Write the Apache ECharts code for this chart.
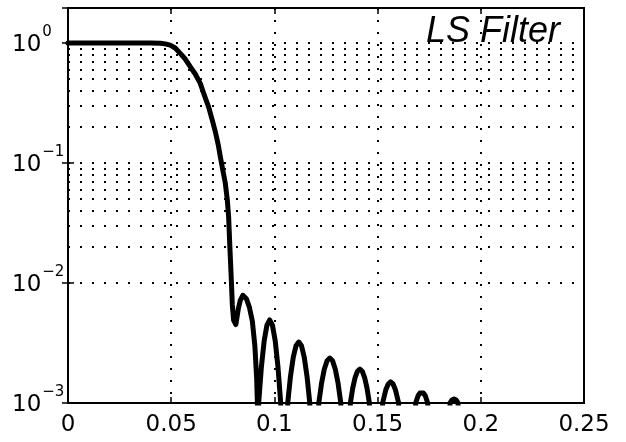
<!DOCTYPE html>
<html><head><meta charset="utf-8">
<script src="https://cdn.jsdelivr.net/npm/echarts@6/dist/echarts.min.js"></script>
<style>html,body{margin:0;padding:0;background:#fff}#c{width:626px;height:442px}</style>
</head><body><div id="c"></div>
<script>
// ---- tick data ----
const xTickLabels = ['0', '0.05', '0.1', '0.15', '0.2', '0.25'];
const yTickValues = [0.001, 0.01, 0.1, 1];
const yTickExps = ['\u22123', '\u22122', '\u22121', '0'];
const yMinorGrid = [0.002,0.003,0.004,0.005,0.006,0.007,0.008,0.009,
                    0.02,0.03,0.04,0.05,0.06,0.07,0.08,0.09,
                    0.2,0.3,0.4,0.5,0.6,0.7,0.8,0.9];

// ---- response data [frequency, magnitude] ----
const passband = [[0,1],[0.02,1],[0.04,1],[0.0447,0.998]];
const transition = [[0.04709,0.985],[0.04951,0.962],[0.05194,0.91],[0.05437,0.82],[0.0568,0.736],
  [0.05922,0.635],[0.06165,0.552],[0.06408,0.461],[0.06602,0.369],[0.06811,0.294],[0.0699,0.228],
  [0.07136,0.183],[0.07282,0.141],[0.07379,0.113],[0.075,0.0874],[0.07621,0.068],[0.07718,0.0492],
  [0.07782,0.0357],[0.0784,0.0205],[0.07913,0.0106],[0.07961,0.0066],[0.08024,0.0049],[0.08131,0.0045]];
const lobe1 = [[0.08252,0.0061],[0.0835,0.0072],[0.08471,0.0079],[0.08641,0.0074],[0.08786,0.0063],
  [0.08932,0.0048],[0.09053,0.0030],[0.09141,0.0016],[0.09175,0.001],[0.09214,1e-6]];
const lobe2 = [[0.09238,0.001],[0.09371,0.00201],[0.09505,0.0033],[0.09638,0.00445],[0.09772,0.00492],
  [0.09905,0.00445],[0.10039,0.0033],[0.10172,0.00201],[0.10306,0.001],[0.10476,1e-6]];
const lobe3 = [[0.10646,0.001],[0.10779,0.00167],[0.10913,0.0024],[0.11046,0.003],[0.1118,0.00322],
  [0.11313,0.003],[0.11447,0.0024],[0.1158,0.00167],[0.11714,0.001],[0.11932,1e-6]];
const lobe4 = [[0.1215,0.001],[0.12284,0.00146],[0.12417,0.00191],[0.12551,0.00225],[0.12684,0.00237],
  [0.12818,0.00225],[0.12951,0.00191],[0.13085,0.00146],[0.13218,0.001],[0.13447,1e-6]];
const lobe5 = [[0.1368,0.001],[0.13795,0.00133],[0.1391,0.00163],[0.14025,0.00184],[0.14141,0.00192],
  [0.14256,0.00184],[0.14371,0.00163],[0.14487,0.00133],[0.14602,0.001],[0.14922,1e-6]];
const lobe6 = [[0.15243,0.001],[0.15398,0.00129],[0.15515,0.00144],[0.15631,0.0015],[0.15748,0.00144],
  [0.15864,0.00129],[0.16019,0.001],[0.16432,1e-6]];
const lobe7 = [[0.16845,0.001],[0.16961,0.00115],[0.17049,0.00121],[0.17136,0.00124],[0.17223,0.00121],
  [0.17311,0.00115],[0.17427,0.001],[0.17961,1e-6]];
const lobe8 = [[0.1851,0.001],[0.18607,0.00106],[0.18704,0.00108],[0.18801,0.00106],[0.18898,0.001],[0.19126,1e-6]];

const curve = [].concat(passband, transition, lobe1, lobe2, lobe3, lobe4, lobe5, lobe6, lobe7, lobe8);

function dotted() { return {type: [2, 10], color: '#000', width: 2}; }
const tickFont = 'DejaVu Sans';

function yLabel(v) {
  for (let i = 0; i < yTickValues.length; i++) {
    if (Math.abs(Math.log10(v) - Math.log10(yTickValues[i])) < 1e-6) {
      return '{b|10}{s|' + yTickExps[i] + '}';
    }
  }
  return '';
}

const chart = echarts.init(document.getElementById('c'), null, {renderer: 'canvas'});
chart.setOption({
  animation: false,
  backgroundColor: '#fff',
  title: {
    text: 'LS Filter', right: 66, top: 14, padding: 0,
    textStyle: {fontFamily: 'Liberation Sans', fontStyle: 'italic', fontWeight: 'normal', fontSize: 36, color: '#000'}
  },
  grid: {left: 68, right: 42, top: 8, bottom: 39, containLabel: false, outerBoundsMode: 'none',
    show: true, borderColor: '#000', borderWidth: 2, backgroundColor: 'transparent'},
  xAxis: [{
    type: 'value', min: 0, max: 0.25, interval: 0.05,
    axisLine: {show: false},
    axisTick: {show: true, inside: true, length: 6, lineStyle: {color: '#000', width: 1.5}},
    axisLabel: {margin: 11, color: '#000', fontFamily: tickFont, fontSize: 23,
      formatter: (v, i) => xTickLabels[i]},
    splitLine: {show: true, lineStyle: dotted()}
  }, {
    type: 'value', position: 'top', min: 0, max: 0.25, interval: 0.05,
    axisLine: {show: false}, axisLabel: {show: false}, splitLine: {show: false},
    axisTick: {show: true, inside: true, length: 6, lineStyle: {color: '#000', width: 1.5}}
  }],
  yAxis: [{
    type: 'log', logBase: 10, min: 0.001, max: 1.96,
    axisLine: {show: false},
    axisTick: {show: true, inside: true, length: 6, lineStyle: {color: '#000', width: 1.5}},
    axisLabel: {margin: 56, align: 'left', formatter: yLabel,
      rich: {
        b: {fontFamily: tickFont, fontSize: 23, color: '#000', verticalAlign: 'middle', padding: [4, 0, 0, 0]},
        s: {fontFamily: tickFont, fontSize: 15, color: '#000', verticalAlign: 'middle', padding: [0, 0, 22, 1]}
      }},
    splitLine: {show: true, lineStyle: dotted()}
  }, {
    type: 'log', logBase: 10, min: 0.001, max: 1.96, position: 'right',
    axisLine: {show: false}, axisLabel: {show: false}, splitLine: {show: false},
    axisTick: {show: true, inside: true, length: 6, lineStyle: {color: '#000', width: 1.5}}
  }],
  series: [{
    type: 'line', data: [], xAxisIndex: 0, yAxisIndex: 0, z: 1,
    markLine: {
      silent: true, symbol: ['none', 'none'], label: {show: false},
      lineStyle: dotted(), animation: false,
      data: yMinorGrid.map(v => ({yAxis: v}))
    }
  }, {
    type: 'line', data: curve, xAxisIndex: 0, yAxisIndex: 0, z: 5,
    symbol: 'none', showSymbol: false, clip: true, smooth: false,
    lineStyle: {color: '#000', width: 5, join: 'round', cap: 'round'}
  }]
});
</script></body></html>
